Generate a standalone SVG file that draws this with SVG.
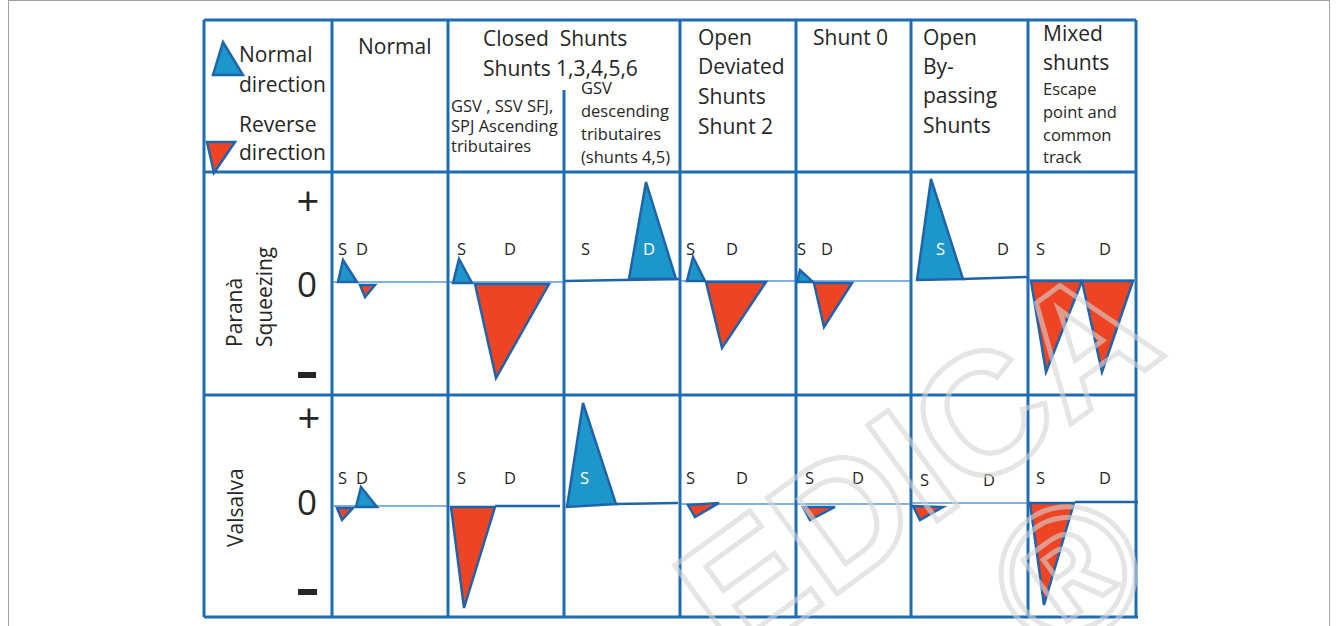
<svg xmlns="http://www.w3.org/2000/svg" width="1337" height="626" viewBox="0 0 1337 626">
  <style>
    .grid{stroke:#1f6cb5;stroke-width:3;fill:none}
    .t{font-family:"Open Sans","Noto Sans","DejaVu Sans",sans-serif;fill:#262626}
    .h{font-size:21px}
    .sm{font-size:16.5px}
    .lab{font-size:16.5px}
    .w{fill:#ffffff}
    .up{fill:#1d96c9;stroke:#1e64ad;stroke-width:2.5;stroke-linejoin:miter}
    .dn{fill:#ee4424;stroke:#1e64ad;stroke-width:2.5;stroke-linejoin:miter}
    .zero{stroke:#5a96d2;stroke-width:1.3}
    .track{stroke:#1e64ad;stroke-width:2.5}
    .wm{font-family:"Liberation Sans",Arial,sans-serif;font-weight:bold;fill:none;stroke:#d4d4d4;stroke-width:5;opacity:0.6}
  </style>

  <!-- page frame -->
  <rect x="8.5" y="0.5" width="1321" height="640" fill="#ffffff" stroke="#a0a0a0" stroke-width="1"/>

  <!-- table grid -->
  <g id="grid" class="grid">
    <line x1="204" y1="20" x2="1136" y2="20"/>
    <line x1="204" y1="172" x2="1136" y2="172"/>
    <line x1="204" y1="395" x2="1136" y2="395"/>
    <line x1="204" y1="617" x2="1138" y2="617"/>
    <line x1="204" y1="20" x2="204" y2="617"/>
    <line x1="332" y1="20" x2="332" y2="617"/>
    <line x1="448" y1="20" x2="448" y2="617"/>
    <line x1="564" y1="90" x2="564" y2="617"/>
    <line x1="680" y1="20" x2="680" y2="617"/>
    <line x1="796" y1="20" x2="796" y2="617"/>
    <line x1="911" y1="20" x2="911" y2="617"/>
    <line x1="1028" y1="20" x2="1028" y2="617"/>
    <line x1="1136" y1="20" x2="1136" y2="617"/>
  </g>

  <!-- legend -->
  <g id="legend">
    <polygon class="up" points="223,42 213,75 243,75"/>
    <polygon class="dn" points="207,142 235,142 214,173"/>
    <text class="t h" x="239" y="62">Normal</text>
    <text class="t h" x="239" y="92">direction</text>
    <text class="t h" x="239" y="132">Reverse</text>
    <text class="t h" x="239" y="160">direction</text>
  </g>

  <!-- column headers -->
  <g id="hdr-normal"><text class="t h" x="358" y="54">Normal</text></g>
  <g id="hdr-closed">
    <text class="t h" x="483" y="46" xml:space="preserve">Closed  Shunts</text>
    <text class="t h" x="483" y="76">Shunts 1,3,4,5,6</text>
  </g>
  <g id="hdr-closed-asc">
    <text class="t sm" x="451" y="112">GSV , SSV SFJ,</text>
    <text class="t sm" x="451" y="132">SPJ Ascending</text>
    <text class="t sm" x="451" y="152">tributaires</text>
  </g>
  <g id="hdr-closed-desc">
    <text class="t sm" x="581" y="94">GSV</text>
    <text class="t sm" x="581" y="117">descending</text>
    <text class="t sm" x="581" y="140">tributaires</text>
    <text class="t sm" x="581" y="163">(shunts 4,5)</text>
  </g>
  <g id="hdr-deviated">
    <text class="t h" x="698" y="45">Open</text>
    <text class="t h" x="698" y="74">Deviated</text>
    <text class="t h" x="698" y="104">Shunts</text>
    <text class="t h" x="698" y="134">Shunt 2</text>
  </g>
  <g id="hdr-shunt0"><text class="t h" x="813" y="45">Shunt 0</text></g>
  <g id="hdr-bypass">
    <text class="t h" x="923" y="45">Open</text>
    <text class="t h" x="923" y="74">By-</text>
    <text class="t h" x="923" y="103">passing</text>
    <text class="t h" x="923" y="133">Shunts</text>
  </g>
  <g id="hdr-mixed">
    <text class="t h" x="1043" y="41">Mixed</text>
    <text class="t h" x="1043" y="70">shunts</text>
    <text class="t sm" x="1043" y="95">Escape</text>
    <text class="t sm" x="1043" y="118">point and</text>
    <text class="t sm" x="1043" y="141">common</text>
    <text class="t sm" x="1043" y="163">track</text>
  </g>

  <!-- row headers -->
  <g id="row-parana">
    <text class="t h" transform="translate(242,347) rotate(-90)">Paranà</text>
    <text class="t h" transform="translate(272,347) rotate(-90)">Squeezing</text>
    <text class="t" x="308" y="216" font-size="40" text-anchor="middle">+</text>
    <text class="t" x="307" y="297" font-size="35" text-anchor="middle">0</text>
    <rect x="298" y="372" width="18" height="6" fill="#262626"/>
  </g>
  <g id="row-valsalva">
    <text class="t h" transform="translate(243,547) rotate(-90)">Valsalva</text>
    <text class="t" x="309" y="433" font-size="40" text-anchor="middle">+</text>
    <text class="t" x="307" y="515" font-size="35" text-anchor="middle">0</text>
    <rect x="298" y="589" width="19" height="6" fill="#262626"/>
  </g>

  <!-- flow curves: Paranà squeezing -->
  <g id="p-normal">
    <line class="zero" x1="333" y1="282" x2="447" y2="282"/>
    <polygon class="up" points="343,260 338,282 357,282"/>
    <polygon class="dn" points="360,285 375,285 365,297"/>
    <text class="t lab" x="338" y="255">S</text>
    <text class="t lab" x="356" y="255">D</text>
  </g>
  <g id="p-closed-asc">
    <line class="zero" x1="449" y1="282" x2="563" y2="282"/>
    <polygon class="up" points="459,259 453,283 472,283"/>
    <polygon class="dn" points="475,284 549,284 496,378"/>
    <text class="t lab" x="457" y="255">S</text>
    <text class="t lab" x="504" y="255">D</text>
  </g>
  <g id="p-closed-desc">
    <line class="track" x1="565" y1="281" x2="679" y2="279"/>
    <polygon class="up" points="646,182 629,279 676,279"/>
    <text class="t lab" x="581" y="255">S</text>
    <text class="t lab w" x="643" y="255">D</text>
  </g>
  <g id="p-deviated">
    <line class="zero" x1="681" y1="281" x2="795" y2="281"/>
    <polygon class="up" points="693,257 687,281 705,281"/>
    <polygon class="dn" points="706,282 766,282 722,348"/>
    <text class="t lab" x="686" y="255">S</text>
    <text class="t lab" x="726" y="255">D</text>
  </g>
  <g id="p-shunt0">
    <line class="zero" x1="797" y1="281" x2="910" y2="281"/>
    <polygon class="up" points="800,270 797,282 813,282"/>
    <polygon class="dn" points="814,283 852,283 824,327"/>
    <text class="t lab" x="797" y="255">S</text>
    <text class="t lab" x="821" y="255">D</text>
  </g>
  <g id="p-bypass">
    <line class="track" x1="962" y1="279" x2="1027" y2="277"/>
    <polygon class="up" points="931,179 917,280 963,279"/>
    <text class="t lab w" x="936" y="255">S</text>
    <text class="t lab" x="997" y="255">D</text>
  </g>
  <g id="p-mixed">
    <line class="zero" x1="1029" y1="280" x2="1138" y2="280"/>
    <polygon class="dn" points="1031,281 1082,281 1046,372"/>
    <polygon class="dn" points="1082,281 1133,281 1102,372"/>
    <text class="t lab" x="1036" y="255">S</text>
    <text class="t lab" x="1099" y="255">D</text>
  </g>

  <!-- flow curves: Valsalva -->
  <g id="v-normal">
    <line class="zero" x1="333" y1="506" x2="447" y2="506"/>
    <polygon class="dn" points="337,508 353,508 342,520"/>
    <polygon class="up" points="361,487 356,507 377,507"/>
    <text class="t lab" x="338" y="484">S</text>
    <text class="t lab" x="356" y="484">D</text>
  </g>
  <g id="v-closed-asc">
    <line class="track" x1="495" y1="506" x2="560" y2="506"/>
    <polygon class="dn" points="451,507 495,507 464,608"/>
    <text class="t lab" x="457" y="484">S</text>
    <text class="t lab" x="504" y="484">D</text>
  </g>
  <g id="v-closed-desc">
    <line class="track" x1="616" y1="504" x2="678" y2="503"/>
    <polygon class="up" points="583,403 567,507 616,504"/>
    <text class="t lab w" x="580" y="484">S</text>
  </g>
  <g id="v-deviated">
    <line class="zero" x1="681" y1="504" x2="795" y2="504"/>
    <polygon class="dn" points="688,505 719,503 695,517"/>
    <text class="t lab" x="686" y="484">S</text>
    <text class="t lab" x="736" y="484">D</text>
  </g>
  <g id="v-shunt0">
    <line class="zero" x1="797" y1="504" x2="910" y2="504"/>
    <polygon class="dn" points="803,507 835,507 810,520"/>
    <text class="t lab" x="805" y="484">S</text>
    <text class="t lab" x="852" y="484">D</text>
  </g>
  <g id="v-bypass">
    <line class="zero" x1="912" y1="503" x2="1027" y2="503"/>
    <polygon class="dn" points="913,506 943,507 920,520"/>
    <text class="t lab" x="920" y="486">S</text>
    <text class="t lab" x="983" y="486">D</text>
  </g>
  <g id="v-mixed">
    <line class="track" x1="1075" y1="502" x2="1138" y2="502"/>
    <polygon class="dn" points="1030,503 1074,503 1044,605"/>
    <text class="t lab" x="1036" y="484">S</text>
    <text class="t lab" x="1099" y="484">D</text>
  </g>

  <!-- publisher watermark, laid over the table -->
  <g id="watermark">
    <text class="wm" font-size="172" transform="translate(735,668) rotate(-36)">EDICA</text>
    <text class="wm" font-size="190" transform="translate(1050,668) rotate(-36)">®</text>
  </g>
</svg>
